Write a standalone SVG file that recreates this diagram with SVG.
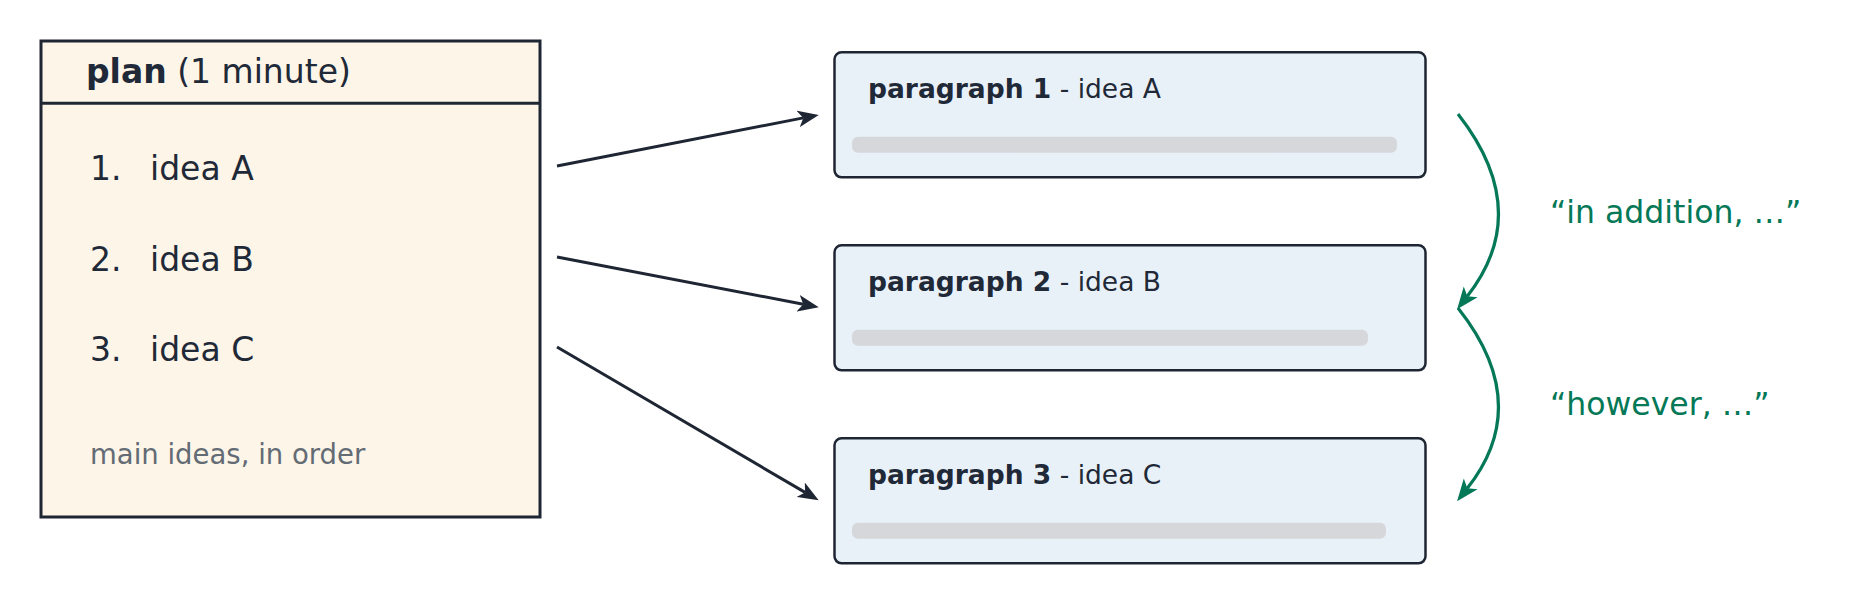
<svg xmlns="http://www.w3.org/2000/svg" width="1859" height="605" viewBox="0 0 1859 605">
<style>
  .t{font-family:"DejaVu Sans","Liberation Sans",sans-serif;fill:#1f2937}
  .b{font-weight:700}
  .plan{fill:#fcf5e8;stroke:#1f2633;stroke-width:3}
  .para{fill:#e9f1f8;stroke:#1f2633;stroke-width:2.5}
  .bar{fill:#d5d7da}
  .edge{fill:none;stroke:#1f2633;stroke-width:3}
  .trans{fill:none;stroke:#047857;stroke-width:3.2}
  .g{font-family:"DejaVu Sans","Liberation Sans",sans-serif;fill:#047857;font-size:31.5px}
  .list{font-size:33px}
  .title{font-size:26.5px}
  .note{font-size:27.5px;fill:#636b75}
</style>
<defs>
  <marker id="ah" viewBox="0 0 20 16" refX="5" refY="8" markerWidth="21" markerHeight="17" markerUnits="userSpaceOnUse" orient="auto">
    <path d="M0,0 L20,8 L0,16 L5,8 Z" fill="#1f2633"/>
  </marker>
  <marker id="ahg" viewBox="0 0 20 16" refX="5" refY="8" markerWidth="22" markerHeight="18" markerUnits="userSpaceOnUse" orient="auto">
    <path d="M0,0 L20,8 L0,16 L5,8 Z" fill="#047857"/>
  </marker>
</defs>
<g id="plan">
  <rect class="plan" x="41" y="41" width="499" height="476"/>
  <line x1="41" y1="103.3" x2="540" y2="103.3" stroke="#1f2633" stroke-width="3"/>
  <text class="t list" x="86" y="83"><tspan class="b">plan</tspan> (1 minute)</text>
  <text class="t list" x="90" y="180">1.</text>
  <text class="t list" x="150" y="180">idea A</text>
  <text class="t list" x="90" y="270.7">2.</text>
  <text class="t list" x="150" y="270.7">idea B</text>
  <text class="t list" x="90" y="360.7">3.</text>
  <text class="t list" x="150" y="360.7">idea C</text>
  <text class="t note" x="90" y="464">main ideas, in order</text>
</g>
<g id="paragraph1">
  <rect class="para" x="834.5" y="52.3" width="591" height="125" rx="7"/>
  <text class="t title" x="868" y="98.3"><tspan class="b">paragraph 1</tspan> - idea A</text>
  <rect class="bar" x="852" y="136.7" width="545" height="16" rx="6"/>
</g>
<g id="paragraph2">
  <rect class="para" x="834.5" y="245.3" width="591" height="125" rx="7"/>
  <text class="t title" x="868" y="291.3"><tspan class="b">paragraph 2</tspan> - idea B</text>
  <rect class="bar" x="852" y="329.7" width="516" height="16" rx="6"/>
</g>
<g id="paragraph3">
  <rect class="para" x="834.5" y="438.3" width="591" height="125" rx="7"/>
  <text class="t title" x="868" y="484.3"><tspan class="b">paragraph 3</tspan> - idea C</text>
  <rect class="bar" x="852" y="522.7" width="534" height="16" rx="6"/>
</g>
<g id="label-addition">
  <text class="g" x="1550" y="223.3">“in addition, …”</text>
</g>
<g id="label-however">
  <text class="g" x="1550" y="415">“however, …”</text>
</g>
<g id="connectors">
  <path class="edge" d="M557,166 L803.3,117.9" marker-end="url(#ah)"/>
  <path class="edge" d="M557,257 L803.3,304.2" marker-end="url(#ah)"/>
  <path class="edge" d="M557,347 L805.1,492.4" marker-end="url(#ah)"/>
  <path class="trans" d="M1458,114 Q1534,211 1467.3,296.2" marker-end="url(#ahg)"/>
  <path class="trans" d="M1458,308 Q1534,404 1467.3,488.2" marker-end="url(#ahg)"/>
</g>
</svg>
